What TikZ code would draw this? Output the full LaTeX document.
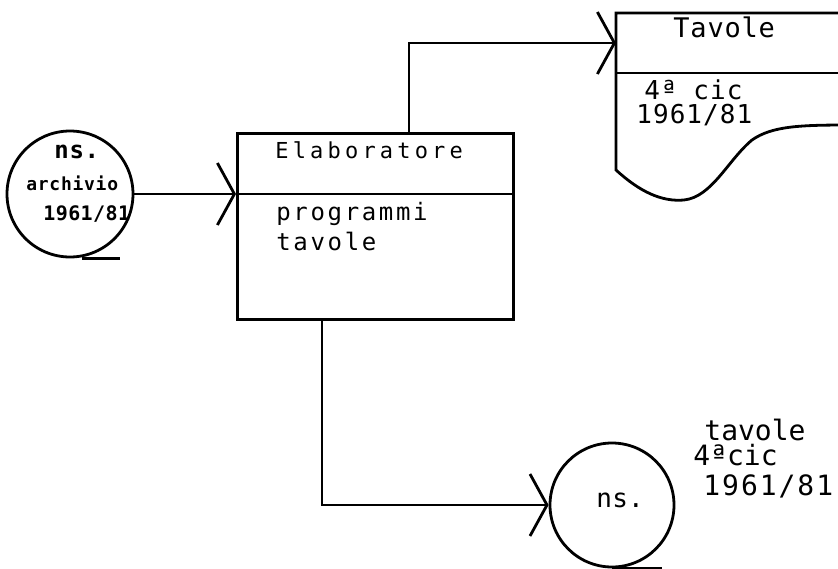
\documentclass[tikz,border=0pt]{standalone}
\usepackage{fontspec}
\newfontfamily\dmono{DejaVu Sans Mono}
\usetikzlibrary{arrows.meta}
\newcommand\dmf[2]{\dmono\fontsize{#1}{#1}\selectfont\addfontfeature{LetterSpace=#2}}
\newcommand\dmfb[2]{\dmono\bfseries\fontsize{#1}{#1}\selectfont\addfontfeature{LetterSpace=#2}}
\begin{document}
\begin{tikzpicture}[x=1pt,y=-1pt,line width=2.8pt,
  arr/.style={-{Straight Barb[length=17pt,width=62pt]}},
  lbl/.style={inner sep=0pt,anchor=base west}]
\useasboundingbox (0,0) rectangle (838,568);
\clip (0,0) rectangle (838,568);
% archive circle (left)
\node[circle,draw,minimum size=126pt,inner sep=0pt] (arch) at (70,194) {};
\draw (arch.south) ++(12,0) -- ++(38,0);
\node[lbl] (archA) at (53,158) {\dmfb{24}{3}ns.};
\node[lbl] (archB) at (25,190) {\dmfb{18}{4}archivio};
\node[lbl] (archC) at (42,220) {\dmfb{20}{2}1961/81};
% processor box
\node[draw,anchor=north west,minimum width=276pt,minimum height=186pt,inner sep=0pt] (elab) at (236,132) {};
\draw (elab.west |- 0,194) -- (elab.east |- 0,194);
\node[lbl] (elabA) at (274,158) {\dmf{22}{19}Elaboratore};
\node[lbl] (elabB) at (275,220) {\dmf{24}{11}programmi};
\node[lbl] (elabC) at (275,250) {\dmf{24}{11}tavole};
% document (top right)
\node[anchor=north west,minimum width=240pt,minimum height=160pt,inner sep=0pt] (tav) at (616,13) {};
\draw (850,13) -- (616,13) -- (616,170)
  .. controls (640,192) and (662,202) .. (684,200)
  .. controls (712,197) and (728,160) .. (752,140)
  .. controls (772,126) and (800,125) .. (850,125);
\draw (616,73) -- (850,73);
\node[lbl] (tavA) at (672,37) {\dmf{27}{3}Tavole};
\node[lbl] (tavB) at (643,99) {\dmf{26}{4}4ª cic};
\node[lbl] (tavC) at (635,123) {\dmf{26}{4}1961/81};
% output circle (bottom)
\node[circle,draw,minimum size=124pt,inner sep=0pt] (out) at (612,505) {};
\draw (out.south) -- ++(50,0);
\node[lbl] (outA) at (595,507) {\dmf{26}{1}ns.};
\node[lbl] (outB) at (703,440) {\dmf{28}{0}tavole};
\node[lbl] (outC) at (692,465) {\dmf{28}{0}4ªcic};
\node[lbl] (outD) at (702,495) {\dmf{28}{7}1961/81};
% connectors
\draw[arr] (arch.east) -- (elab.west |- arch.east);
\draw[arr] (elab.north -| 409,0) |- (tav.west |- 0,43);
\draw[arr] (elab.south -| 322,0) |- (out.west);
\end{tikzpicture}
\end{document}
